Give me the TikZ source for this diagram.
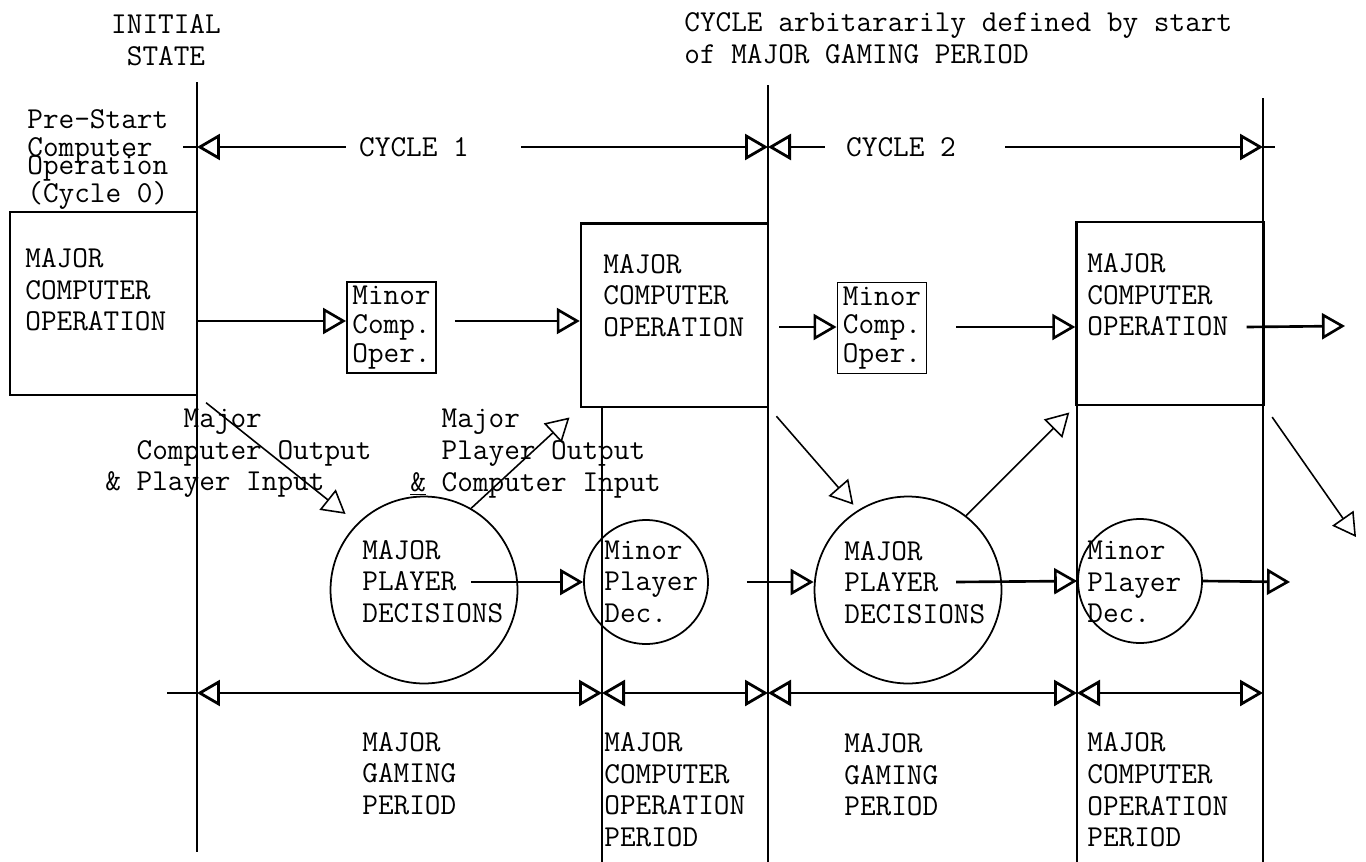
\documentclass[tikz,border=0pt]{standalone}
\usetikzlibrary{arrows.meta,calc}

\begin{document}
\begin{tikzpicture}[x=0.02cm,y=-0.02cm,
    every node/.style={font=\ttfamily\fontsize{17.3}{18}\selectfont, inner sep=0pt},
    >={Triangle[open,length=0.46cm,width=0.52cm]},
    txt/.style={anchor=west, align=left},
    vline/.style={line width=1.5pt},
    majbox/.style={draw, line width=1.4pt, minimum width=3.74cm, minimum height=3.67cm},
    minbox/.style={draw, line width=1.1pt, minimum width=1.78cm, minimum height=1.82cm,
                   align=left, font=\ttfamily\fontsize{17.3}{16.4}\selectfont},
    bigdec/.style={draw, circle, line width=1pt, minimum size=3.74cm},
    mindec/.style={draw, circle, line width=1pt, minimum size=2.48cm},
    flow/.style={->, line width=1.5pt},
    diag/.style={->, line width=0.9pt},
    dim/.style={line width=1.6pt}]
  \useasboundingbox (0,0) rectangle (1366,862);

  % Headings
  \node[align=center] (init) at (166,40) {INITIAL\\STATE};
  \node[txt] (cycdef) at (684,38) {CYCLE arbitararily defined by start\\of MAJOR GAMING PERIOD};
  \node[anchor=north west, align=left] (prestart) at (27,109)
    {Pre-Start\\[-2.1pt]Computer\\[-7.8pt]Operation\\[-1.6pt](Cycle 0)};

  % Time lines
  \foreach \x/\ya/\yb in {197/82/852, 768/85/862, 1263/98/862, 602/407/862, 1077/405/862}
    \draw[vline] (\x,\ya) -- (\x,\yb);

  % Cycles
  \coordinate (c0) at (197,147);
  \coordinate (c1) at (768,147);
  \coordinate (c2) at (1263,147);
  \node (cyc1) at (414,147) {CYCLE 1};
  \node (cyc2) at (901,147) {CYCLE 2};
  \draw[dim] (c0) -- ++(-14,0);
  \draw[dim,<-] (c0) -- ($(cyc1.west)+(-13,0)$);
  \draw[dim,->] ($(cyc1.east)+(52,0)$) -- (c1);
  \draw[dim,<-] (c1) -- ($(cyc2.west)+(-21,0)$);
  \draw[dim,->] ($(cyc2.east)+(49,0)$) -- (c2);
  \draw[dim] (c2) -- ++(12,0);

  % Computer operations
  \node[majbox] (mco1) at (103.5,303.5) {};
  \node[majbox] (mco2) at (674.5,315) {};
  \node[majbox] (mco3) at (1170,313.5) {};
  \node[txt] (mco1t) at (25,290) {MAJOR\\COMPUTER\\OPERATION};
  \node[txt] (mco2t) at (603,295.5) {MAJOR\\COMPUTER\\OPERATION};
  \node[txt] (mco3t) at (1087,295) {MAJOR\\COMPUTER\\OPERATION};
  \node[minbox] (mcp1) at (391.5,327.5) {Minor\\Comp.\\Oper.};
  \node[minbox] (mcp2) at (882,328) {Minor\\Comp.\\Oper.};

  % Player decisions
  \node[bigdec] (mpd1) at (424,590) {};
  \node[bigdec] (mpd2) at (908,590) {};
  \node[mindec] (mnd1) at (646,582) {};
  \node[mindec] (mnd2) at (1140,581) {};
  \node[txt] (mpd1t) at (362,581.5) {MAJOR\\PLAYER\\DECISIONS};
  \node[txt] (mpd2t) at (844,582.5) {MAJOR\\PLAYER\\DECISIONS};
  \node[txt] (mnd1t) at (604,581.5) {Minor\\Player\\Dec.};
  \node[txt] (mnd2t) at (1087,582) {Minor\\Player\\Dec.};

  % Transfer labels
  \node[txt] (cout) at (105,453.5)
    {\phantom{xxxxx}Major\\\phantom{xx}Computer Output\\\& Player Input};
  \node[txt] (pout) at (410,453.5)
    {\phantom{xx}Major\\\phantom{xx}Player Output\\\underline{\&} Computer Input};

  % Flow
  \coordinate (rowA) at (0,321);
  \coordinate (rowB) at (0,327);
  \coordinate (rowC) at (0,582);
  \coordinate (out3) at (1345,326);
  \coordinate (out4) at (1290,582);
  \coordinate (out5) at (1356,537);
  \draw[flow] (mco1.east |- rowA) -- (mcp1.west |- rowA);
  \draw[flow] ($(mcp1.east |- rowA)+(18,0)$) -- (mco2.west |- rowA);
  \draw[flow] ($(mco2.east |- rowB)+(10,0)$) -- (mcp2.west |- rowB);
  \draw[flow] ($(mcp2.east |- rowB)+(29,0)$) -- (mco3.west |- rowB);
  \draw[flow] ($(mco3.east |- rowB)+(-18,0)$) -- (out3);
  \draw[flow] ($(mpd1.center |- rowC)+(47,0)$) -- (mnd1.west);
  \draw[flow] ($(mnd1.east)+(38,0)$) -- (mpd2.west |- rowC);
  \draw[flow] ($(mpd2.center |- rowC)+(48,0)$) -- (mnd2.west);
  \draw[flow] (mnd2.east) -- (out4);
  \draw[diag, shorten <=0.2cm, shorten >=0.3cm] (mco1.south east) -- (mpd1.135);
  \draw[diag, shorten >=0.28cm] (mpd1.60) -- (mco2.south west);
  \draw[diag, shorten <=0.22cm, shorten >=0.14cm] (mco2.south east) -- (mpd2.122);
  \draw[diag, shorten >=0.17cm] (mpd2.52) -- (mco3.south west);
  \draw[diag, shorten <=0.26cm] (mco3.south east) -- (out5);

  % Periods
  \coordinate (b0) at (197,693);
  \coordinate (b1) at (602,693);
  \coordinate (b2) at (768,693);
  \coordinate (b3) at (1077,693);
  \coordinate (b4) at (1263,693);
  \draw[dim] (b0) -- ++(-30,0);
  \foreach \a/\b in {b0/b1,b1/b2,b2/b3,b3/b4}
    \draw[dim,<->] (\a) -- (\b);
  \node[txt] (gp1) at (362,773.5) {MAJOR\\GAMING\\PERIOD};
  \node[txt] (cp1) at (604,789.5) {MAJOR\\COMPUTER\\OPERATION\\PERIOD};
  \node[txt] (gp2) at (844,775) {MAJOR\\GAMING\\PERIOD};
  \node[txt] (cp2) at (1087,790) {MAJOR\\COMPUTER\\OPERATION\\PERIOD};
\end{tikzpicture}
\end{document}
